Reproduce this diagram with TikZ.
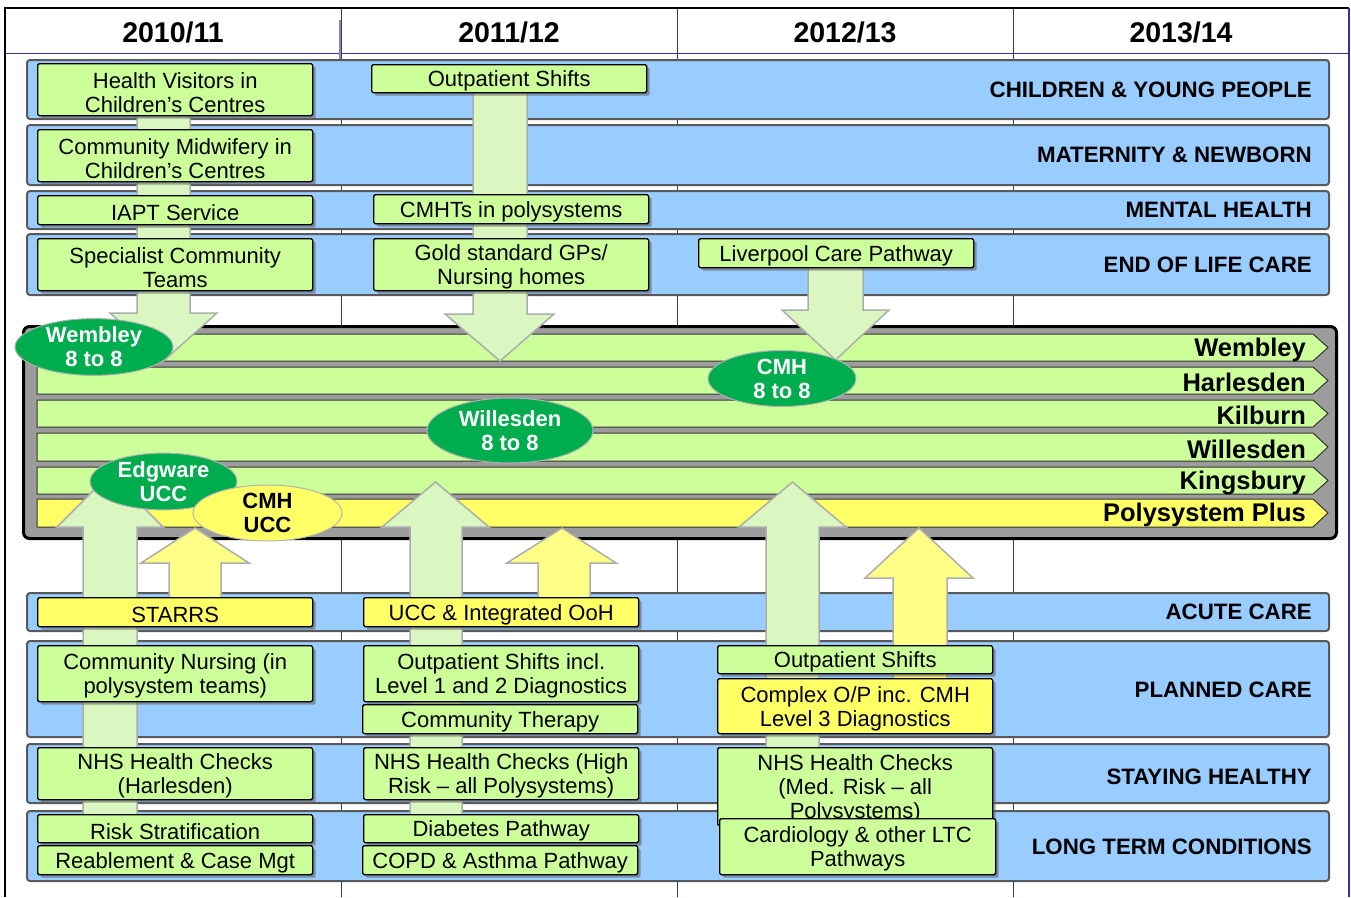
\documentclass[tikz,border=0pt]{standalone}
\usepackage{fontspec}
\setmainfont{Liberation Sans}
\usetikzlibrary{shapes.geometric,shadows}
\definecolor{bandblue}{HTML}{99CCFF}
\definecolor{boxgreen}{HTML}{CCFF99}
\definecolor{boxyellow}{HTML}{FFFF66}
\definecolor{ellgreen}{HTML}{00AD4E}
\definecolor{navyline}{HTML}{333399}
\definecolor{blockgrey}{HTML}{9C9C9C}
\definecolor{arrgreen}{HTML}{DAF7C2}
\definecolor{arryellow}{HTML}{FFFF88}
\definecolor{arredge}{HTML}{ADADAD}
\begin{document}
\begin{tikzpicture}[x=1pt,y=-1pt,
  band/.style={draw=black!65, line width=2pt, fill=bandblue, rounded corners=3pt,
    anchor=north west, inner sep=0pt, minimum width=1302},
  bandlabel/.style={anchor=east, inner sep=0pt, font=\fontsize{22.3}{24}\selectfont\bfseries},
  yearlabel/.style={inner sep=0pt, font=\fontsize{28.5}{30}\selectfont\bfseries},
  gbox/.style={draw=black, line width=1.4pt, fill=boxgreen, rounded corners=1.5pt,
    anchor=north west, inner sep=0pt, minimum width=275,
    drop shadow={shadow xshift=3pt, shadow yshift=-3pt, fill=black!60, opacity=0.6}},
  ybox/.style={gbox, fill=boxyellow},
  btext/.style={inner sep=0pt, align=center, font=\fontsize{22}{24}\selectfont},
  bar/.style={draw=black!80, line width=1pt, fill=boxgreen},
  ybar/.style={bar, fill=boxyellow},
  barlabel/.style={anchor=east, inner sep=0pt, font=\fontsize{25.5}{28}\selectfont\bfseries},
  garrow/.style={draw=arredge, line width=1.5pt, fill=arrgreen, line join=miter},
  yarrow/.style={garrow, fill=arryellow},
  ell/.style={ellipse, draw=black!30, line width=1pt, fill=ellgreen, text=white,
    inner sep=0pt, align=center, font=\fontsize{22}{24}\selectfont\bfseries},
  yell/.style={ell, fill=boxyellow, text=black}
]
\useasboundingbox (0,0) rectangle (1351,897);
% ---------- grid ----------
\foreach \cx in {341,677,1013} \draw[navyline, line width=1pt] (\cx,8) -- (\cx,897);
\draw[navyline, line width=1pt] (5,53) -- (1349,53);
\draw[black, line width=1.8pt] (5,897) -- (5,8) -- (1349,8);
\draw[navyline, line width=1.2pt] (1349,8) -- (1349,897);
\draw[black!45, line width=1.5pt] (340,20) -- (340,70);
\node[yearlabel] (y1) at (173,32) {2010/11};
\node[yearlabel] (y2) at (509,32) {2011/12};
\node[yearlabel] (y3) at (845,32) {2012/13};
\node[yearlabel] (y4) at (1181,32) {2013/14};
% ---------- bands ----------
\node[band, minimum height=59] (b1) at (26,59) {};
\node[band, minimum height=60] (b2) at (26,124) {};
\node[band, minimum height=38] (b3) at (26,190) {};
\node[band, minimum height=61] (b4) at (26,233) {};
\node[band, minimum height=38] (b5) at (26,592) {};
\node[band, minimum height=96] (b6) at (26,640) {};
\node[band, minimum height=59] (b7) at (26,743) {};
\node[band, minimum height=70] (b8) at (26,810) {};
\node[bandlabel] (l1) at (1312,89.5) {CHILDREN \& YOUNG PEOPLE};
\node[bandlabel] (l2) at (1312,154.5) {MATERNITY \& NEWBORN};
\node[bandlabel] (l3) at (1312,209.5) {MENTAL HEALTH};
\node[bandlabel] (l4) at (1312,264.5) {END OF LIFE CARE};
\node[bandlabel] (l5) at (1312,611.5) {ACUTE CARE};
\node[bandlabel] (l6) at (1312,689.5) {PLANNED CARE};
\node[bandlabel] (l7) at (1312,776.5) {STAYING HEALTHY};
\node[bandlabel] (l8) at (1312,846.5) {LONG TERM CONDITIONS};
% ---------- polysystem block ----------
\node[draw=black, line width=3pt, fill=blockgrey, rounded corners=6pt, anchor=north west,
  inner sep=0pt, minimum width=1313, minimum height=212] (poly) at (22,325) {};
\draw[bar]  (37,334) -- (1313,334) -- (1328,347.5) -- (1313,361) -- (37,361) -- cycle;
\draw[bar]  (37,367) -- (1313,367) -- (1328,380.5) -- (1313,394) -- (37,394) -- cycle;
\draw[bar]  (37,400) -- (1313,400) -- (1328,413.5) -- (1313,427) -- (37,427) -- cycle;
\draw[bar]  (37,433) -- (1313,433) -- (1328,447) -- (1313,461) -- (37,461) -- cycle;
\draw[bar]  (37,467) -- (1313,467) -- (1328,480.5) -- (1313,494) -- (37,494) -- cycle;
\draw[ybar] (37,499) -- (1313,499) -- (1328,513) -- (1313,527) -- (37,527) -- cycle;
\node[barlabel] (pw) at (1306,349.5) {Wembley};
\node[barlabel] (ph) at (1306,382.5) {Harlesden};
\node[barlabel] (pk) at (1306,415.5) {Kilburn};
\node[barlabel] (pwi) at (1306,449) {Willesden};
\node[barlabel] (pki) at (1306,482.5) {Kingsbury};
\node[barlabel] (pp) at (1306,515) {Polysystem Plus};
% ---------- arrows ----------
\draw[garrow] (137,90) -- (190,90) -- (190,313) -- (217,313) -- (163.5,361) -- (110,313) -- (137,313) -- cycle;
\draw[garrow] (473,80) -- (527,80) -- (527,314) -- (554,314) -- (500,361) -- (445,314) -- (473,314) -- cycle;
\draw[garrow] (808,252) -- (863,252) -- (863,310) -- (889,310) -- (835.5,360) -- (782,310) -- (808,310) -- cycle;
\draw[garrow] (83,830) -- (137,830) -- (137,527) -- (163,527) -- (110,474) -- (57,527) -- (83,527) -- cycle;
\draw[yarrow] (169,610) -- (221,610) -- (221,563) -- (249,563) -- (195,528) -- (141,563) -- (169,563) -- cycle;
\draw[garrow] (410,830) -- (462,830) -- (462,527) -- (489,527) -- (435.5,482) -- (382,527) -- (410,527) -- cycle;
\draw[yarrow] (538,610) -- (590,610) -- (590,563) -- (616,563) -- (562,528) -- (507,563) -- (538,563) -- cycle;
\draw[garrow] (766,760) -- (819,760) -- (819,527) -- (846,527) -- (792.5,482) -- (739,527) -- (766,527) -- cycle;
\draw[yarrow] (893,690) -- (947,690) -- (947,578) -- (973,578) -- (919,528) -- (865,578) -- (893,578) -- cycle;
% ---------- boxes ----------
\node[gbox, minimum height=52] (hv) at (37,63) {};
\node[btext] (hvt) at ([yshift=-2.5pt]hv.center) {Health Visitors in\\Children’s Centres};
\node[gbox, minimum height=52] (cmw) at (37,129) {};
\node[btext] (cmwt) at ([yshift=-2.5pt]cmw.center) {Community Midwifery in\\Children’s Centres};
\node[gbox, minimum height=29] (iapt) at (37,195) {};
\node[btext] (iaptt) at ([yshift=-2.5pt]iapt.center) {IAPT Service};
\node[gbox, minimum height=52] (sct) at (37,238) {};
\node[btext] (sctt) at ([yshift=-2.5pt]sct.center) {Specialist Community\\Teams};
\node[ybox, minimum height=29] (starrs) at (37,597) {};
\node[btext] (starrst) at ([yshift=-2.5pt]starrs.center) {STARRS};
\node[gbox, minimum height=56] (cn) at (37,645) {};
\node[btext] (cnt) at ([yshift=-2.5pt]cn.center) {Community Nursing (in\\polysystem teams)};
\node[gbox, minimum height=52] (nhs1) at (37,747) {};
\node[btext] (nhs1t) at ([yshift=-2.5pt]nhs1.center) {NHS Health Checks\\(Harlesden)};
\node[gbox, minimum height=28] (rs) at (37,814) {};
\node[btext] (rst) at ([yshift=-2.5pt]rs.center) {Risk Stratification};
\node[gbox, minimum height=29] (rcm) at (37,845) {};
\node[btext] (rcmt) at ([yshift=-2.5pt]rcm.center) {Reablement \& Case Mgt};
\node[gbox, minimum height=28] (os1) at (371,64) {};
\node[btext] (os1t) at ([yshift=-2.5pt]os1.center) {Outpatient Shifts};
\node[gbox, minimum height=29] (cmht) at (373,194) {};
\node[btext] (cmhtt) at ([yshift=-2.5pt]cmht.center) {CMHTs in polysystems};
\node[gbox, minimum height=52] (gold) at (373,238) {};
\node[btext] (goldt) at ([yshift=-2.5pt]gold.center) {Gold standard GPs/\\Nursing homes};
\node[ybox, minimum height=29] (ucc) at (363,597) {};
\node[btext] (ucct) at ([yshift=-2.5pt]ucc.center) {UCC \& Integrated OoH};
\node[gbox, minimum height=56] (osl) at (363,645) {};
\node[btext] (oslt) at ([yshift=-2.5pt]osl.center) {Outpatient Shifts incl.\\Level 1 and 2 Diagnostics};
\node[gbox, minimum height=29] (ct) at (362,704) {};
\node[btext] (ctt) at ([yshift=-2.5pt]ct.center) {Community Therapy};
\node[gbox, minimum height=52] (nhs2) at (363,747) {};
\node[btext] (nhs2t) at ([yshift=-2.5pt]nhs2.center) {NHS Health Checks (High\\Risk – all Polysystems)};
\node[gbox, minimum height=28] (dia) at (363,814) {};
\node[btext] (diat) at ([yshift=-2.5pt]dia.center) {Diabetes Pathway};
\node[gbox, minimum height=29] (copd) at (362,845) {};
\node[btext] (copdt) at ([yshift=-2.5pt]copd.center) {COPD \& Asthma Pathway};
\node[gbox, minimum height=29] (lcp) at (698,238) {};
\node[btext] (lcpt) at ([yshift=-2.5pt]lcp.center) {Liverpool Care Pathway};
\node[gbox, minimum height=28] (os3) at (717,645) {};
\node[btext] (os3t) at ([yshift=-2.5pt]os3.center) {Outpatient Shifts};
\node[ybox, minimum height=55] (cop) at (717,678) {};
\node[btext] (copt) at ([yshift=-2.5pt]cop.center) {Complex O/P inc. CMH\\Level 3 Diagnostics};
\node[gbox, minimum height=78] (nhs3) at (717,747) {};
\node[btext] (nhs3t) at ([yshift=-2.5pt]nhs3.center) {NHS Health Checks\\(Med. Risk – all\\Polysystems)};
\node[gbox, minimum height=56, minimum width=276] (card) at (719,818) {};
\node[btext] (cardt) at ([yshift=-2.5pt]card.center) {Cardiology \& other LTC\\Pathways};
% ---------- ellipses ----------
\node[ell, minimum width=158, minimum height=50] (ewem) at (94,347) {Wembley\\8 to 8};
\node[ell, minimum width=147, minimum height=51] (eedg) at (163.5,481.5) {Edgware\\UCC};
\node[yell, minimum width=149, minimum height=50] (ecmhu) at (267.5,513) {CMH\\UCC};
\node[ell, minimum width=166, minimum height=65] (ewil) at (510,430.5) {Willesden\\8 to 8};
\node[ell, minimum width=148, minimum height=51] (ecmh) at (782,378.5) {CMH\\8 to 8};
\end{tikzpicture}
\end{document}
